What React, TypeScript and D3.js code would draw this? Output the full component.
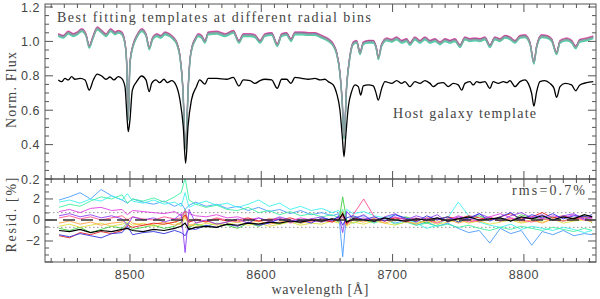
import React from "react";
import * as d3 from "d3";

// ---------- data ----------
const hostWave = [8445.4,8448.0,8450.5,8453.0,8455.6,8458.1,8462.0,8465.8,8469.0,8472.1,8475.1,8478.5,8481.7,8484.8,8487.8,8491.1,8493.7,8496.2,8497.9,8498.7,8500.0,8501.8,8505.1,8508.9,8512.2,8514.7,8516.5,8519.8,8522.6,8525.9,8528.4,8531.8,8535.0,8538.1,8540.6,8542.4,8544.2,8546.8,8550.6,8553.1,8557.1,8559.6,8566.0,8573.6,8578.7,8583.0,8586.3,8591.4,8595.2,8599.0,8602.8,8607.9,8612.2,8615.5,8619.3,8622.6,8625.7,8630.8,8635.8,8640.9,8644.7,8648.5,8651.0,8654.8,8657.4,8659.9,8661.7,8663.0,8664.3,8666.3,8668.8,8671.4,8673.9,8675.7,8677.7,8681.5,8685.3,8687.1,8689.1,8691.7,8694.2,8699.3,8703.1,8706.9,8709.4,8713.2,8717.0,8720.8,8724.6,8728.5,8731.0,8734.8,8738.6,8742.4,8746.2,8750.0,8752.6,8755.1,8758.9,8761.4,8764.0,8766.5,8770.3,8774.1,8776.6,8780.5,8784.3,8786.9,8789.4,8793.2,8797.0,8800.8,8803.3,8805.9,8807.6,8809.7,8812.2,8816.0,8819.8,8822.9,8824.9,8827.5,8831.3,8836.3,8839.4,8842.6,8847.7,8852.8];
const hostFlux = [0.776,0.766,0.785,0.776,0.795,0.780,0.785,0.776,0.717,0.776,0.810,0.799,0.780,0.793,0.776,0.795,0.785,0.737,0.543,0.475,0.543,0.717,0.766,0.799,0.776,0.708,0.756,0.776,0.760,0.780,0.760,0.772,0.747,0.659,0.504,0.291,0.504,0.659,0.737,0.776,0.752,0.785,0.785,0.780,0.791,0.741,0.776,0.772,0.756,0.772,0.780,0.776,0.727,0.780,0.780,0.756,0.791,0.785,0.780,0.785,0.776,0.780,0.766,0.747,0.698,0.601,0.446,0.330,0.446,0.620,0.708,0.747,0.737,0.688,0.741,0.747,0.741,0.708,0.659,0.727,0.766,0.756,0.772,0.756,0.766,0.737,0.766,0.756,0.772,0.756,0.737,0.756,0.760,0.737,0.756,0.747,0.717,0.756,0.766,0.747,0.766,0.760,0.766,0.727,0.766,0.756,0.766,0.760,0.772,0.737,0.766,0.776,0.756,0.698,0.624,0.708,0.766,0.772,0.756,0.727,0.675,0.737,0.756,0.747,0.713,0.747,0.760,0.766];

const fitWave = [8445.4,8449.2,8453.0,8456.8,8459.9,8463.2,8466.5,8469.0,8471.6,8475.1,8478.5,8481.7,8485.3,8488.6,8491.1,8493.7,8496.2,8497.5,8498.7,8500.0,8502.5,8505.1,8508.9,8512.2,8514.7,8517.3,8520.4,8523.4,8526.7,8530.0,8533.0,8535.6,8538.1,8540.2,8542.4,8544.4,8545.7,8547.8,8549.5,8552.0,8554.6,8557.1,8559.6,8566.0,8572.4,8578.7,8583.0,8586.3,8591.4,8595.2,8599.0,8602.8,8607.9,8612.2,8615.5,8619.3,8622.6,8625.7,8630.8,8635.8,8640.9,8646.0,8651.0,8654.8,8657.4,8659.9,8661.7,8663.0,8665.0,8667.5,8670.1,8672.6,8675.2,8677.7,8681.5,8685.3,8687.9,8689.1,8691.7,8695.5,8699.3,8703.1,8706.9,8710.7,8713.2,8717.0,8720.8,8724.6,8728.5,8732.3,8736.1,8739.9,8743.7,8747.5,8751.3,8755.1,8758.9,8762.7,8766.5,8770.3,8774.1,8777.9,8781.8,8785.6,8789.4,8793.2,8797.0,8800.8,8804.6,8807.6,8809.7,8813.5,8817.3,8821.1,8824.9,8827.5,8832.6,8836.4,8839.4,8842.6,8847.7,8852.8];
const fitFlux = [1.037,1.027,1.051,1.037,1.047,1.066,1.037,0.969,1.018,1.076,1.056,1.037,1.066,1.047,1.056,1.047,0.989,0.873,0.549,0.873,0.979,1.027,1.066,1.037,0.960,1.018,1.037,1.027,1.047,1.037,1.018,0.989,0.911,0.737,0.380,0.737,0.892,0.979,1.008,1.037,1.027,0.998,1.047,1.051,1.037,1.056,0.998,1.037,1.037,1.031,0.998,1.037,1.043,0.979,1.037,1.043,1.008,1.047,1.047,1.043,1.043,1.027,1.008,0.979,0.931,0.815,0.640,0.438,0.737,0.911,0.989,0.998,0.931,0.989,0.998,0.998,0.950,0.902,0.979,1.012,1.004,1.018,0.998,1.008,0.985,1.018,0.998,1.018,0.998,1.008,0.989,1.008,0.998,1.008,0.973,1.018,1.008,1.012,1.008,1.018,0.973,1.018,1.008,1.027,1.018,0.998,1.027,1.031,0.989,0.876,0.969,1.031,1.027,1.008,0.931,0.998,1.012,0.998,0.966,1.004,1.012,1.024];

// small offsets of the individual best-fit templates (overlapping band)
const fitColors = ["#e060c0", "#d04060", "#5050e0", "#40e0e0", "#50d0a0"];
const fitOffsets = [0.009, 0.005, 0.002, -0.005, -0.009];

const residWave = [8446,8454,8462,8470,8478,8486,8494,8498,8502,8510,8518,8526,8534,8539,8542,8545,8550,8558,8566,8574,8582,8590,8598,8606,8614,8622,8630,8638,8646,8654,8659,8662,8665,8670,8678,8686,8694,8702,8710,8718,8726,8734,8742,8750,8758,8766,8774,8782,8790,8798,8806,8814,8822,8830,8838,8846,8852];

const residLightBlue = [1.9,2.2,2.6,2.0,2.9,2.3,1.9,1.6,2.0,1.7, 1.5,1.8,1.3,1.6,1.0,1.4,1.7,1.3,1.5,1.1, 1.3,0.9,1.2,0.8,1.0,0.6,0.9,0.5,0.7,0.4, 0.6,-3.5,0.8,0.2,0.4,-0.1,0.2,-0.3,0.0,-0.5, -0.2,-0.6,-0.3,-0.8,-1.2,-1.0,-2.2,-0.8,-1.3,-1.0, -2.4,-1.1,-1.4,-1.0,-1.5,-1.3,-1.4];
const residCyan = [1.7,1.9,1.6,2.0,1.8,2.3,1.9,2.5,1.8,1.6, 1.9,1.5,1.7,1.3,2.6,1.2,1.5,1.8,1.4,1.6, 1.2,1.5,1.9,1.3,1.6,1.0,1.3,0.9,1.1,0.7, 0.9,0.2,1.0,0.6,0.8,0.4,0.2,0.5,0.1,-0.3, -0.8,-0.5,0.2,1.7,0.4,-0.2,-0.5,-0.7,-0.4,-0.9, -0.6,-0.8,-1.0,-0.7,-0.9,-1.2,-1.0];
const residTeal = [1.2,1.5,1.3,1.8,2.2,2.0,2.4,1.6,2.0,1.8, 2.1,1.7,2.2,2.6,4.0,1.9,1.5,1.2,1.4,1.0, 0.9,1.2,0.7,0.9,0.5,0.8,0.4,0.6,0.3,0.5, 0.2,1.0,-0.2,0.3,0.0,-0.3,0.1,-0.4,-0.2,-0.5, -0.3,-0.6,-0.4,-0.7,-0.5,-0.8,-1.0,-0.7,-0.9,-0.6, -0.8,-1.0,-0.7,-0.9,-1.1,-0.8,-1.0];
const residGreen = [-0.8,-1.0,-0.7,-1.2,-0.9,-0.6,-0.8,-0.3,-0.9,-0.7, -0.5,-0.8,-0.6,-0.2,1.0,-0.7,-0.4,-0.6,-0.3,-0.5, -0.8,-0.3,-0.6,-0.2,-0.4,-0.1,-0.3,0.0,-0.2,0.1, -0.2,2.2,0.0,-0.3,0.1,-0.2,0.2,-0.1,0.3,0.0, -0.3,0.1,0.3,-0.2,0.2,0.4,0.0,0.2,-0.1,0.5, 0.2,0.0,0.3,-0.1,0.2,0.4,-0.3];
const residYellow = [-0.6,-0.4,-0.7,-0.5,-0.3,-0.6,-0.4,-0.2,-0.5,-0.3, -0.6,-0.4,-0.2,-0.5,0.2,-0.4,-0.6,-0.3,-0.5,-0.4, -0.2,-0.5,-0.3,-0.6,-0.4,-0.2,-0.5,-0.3,-0.4,-0.1, -0.3,0.3,-0.6,-0.2,-0.4,-0.1,-0.3,-0.5,-0.2,-0.3, -0.1,-0.4,-0.2,0.0,-0.3,-0.1,-0.4,-0.2,0.0,-0.3, -0.1,-0.2,0.1,-0.3,-0.1,0.0,-0.2];
const residOrange = [-0.3,-0.1,-0.4,-0.2,-0.5,-0.3,-0.2,0.1,-0.3,-0.5, -0.4,-0.2,-0.5,-0.3,0.4,-0.6,-0.3,-0.1,-0.4,-0.2, 0.0,-0.3,-0.1,-0.4,-0.2,0.0,-0.3,-0.1,0.1,-0.2, 0.0,0.8,-0.5,0.0,-0.2,0.1,-0.3,0.0,-0.1,-0.4, 0.0,-0.2,0.1,-0.3,0.0,-0.2,0.1,-0.1,0.2,-0.2, 0.0,-0.3,0.1,-0.1,0.0,0.2,-0.1];
const residRed = [-1.5,-1.7,-1.2,-1.4,-1.1,-1.3,-1.0,-0.5,-0.7,-0.5, -0.3,-0.4,-0.2,0.0,0.5,-0.2,0.0,-0.2,0.1,-0.1, 0.0,0.2,-0.1,0.1,0.0,0.2,-0.1,0.1,0.0,-0.2, 0.1,0.5,-0.4,0.2,0.0,0.1,-0.1,0.2,0.1,-0.1, 0.2,0.0,0.3,0.1,0.4,0.2,0.0,0.3,0.6,0.1, 0.3,0.7,0.2,0.4,0.1,0.3,0.2];
const residPink = [0.2,0.4,0.1,0.3,0.0,0.2,0.4,0.0,0.3,0.1, 0.0,0.3,0.1,0.2,0.8,-0.2,0.1,-0.1,0.2,0.0, -0.2,0.1,-0.1,0.0,0.2,-0.3,0.0,-0.2,0.1,-0.1, 0.2,0.4,-0.3,0.5,2.0,0.3,-0.1,0.2,-0.2,0.1, 0.0,-0.3,0.1,0.2,-0.2,0.0,0.3,-0.1,0.1,0.0, -0.2,0.1,0.0,-0.1,0.2,0.0,-0.1];
const residMagenta = [0.8,1.0,0.7,1.1,1.2,0.9,1.0,0.5,0.9,0.8, 0.7,0.6,0.8,0.4,0.9,0.6,0.4,0.3,0.5,0.2, 0.3,0.0,0.2,-0.2,0.1,-0.1,0.2,0.0,-0.2,0.1, -0.1,0.3,-0.2,0.0,0.2,-0.1,0.1,0.3,0.0,0.2, -0.1,0.2,0.0,0.4,0.1,-0.1,0.3,0.6,0.2,0.0, 0.3,0.1,0.4,0.2,0.5,0.0,0.2];
const residPurple = [0.4,0.6,0.3,0.5,0.2,0.4,0.1,-0.5,0.3,0.0, 0.2,-0.2,0.1,0.6,-3.1,1.0,-0.3,0.0,-0.4,-0.2, 0.1,-0.3,0.2,-0.1,0.3,0.0,-0.2,0.1,0.3,-0.1, 0.4,-1.2,0.8,0.1,0.5,-0.2,0.3,0.6,0.0,0.4, 0.1,0.5,-0.2,0.3,0.0,0.6,0.2,-0.1,0.4,0.7, 0.2,0.5,0.0,0.4,0.6,0.1,0.3];
const residBlue = [-1.4,-1.6,-1.3,-1.5,-1.7,-1.3,-1.2,-0.6,-1.4,-1.2, -1.1,-1.3,-1.0,-1.2,-1.5,-0.8,-0.9,-0.5,-0.7,-0.4, -0.6,-0.2,-0.5,-0.3,0.1,-0.2,0.0,-0.3,0.2,0.0, 0.3,-0.5,0.2,0.4,0.0,0.3,-0.1,0.5,0.2,-0.2, 0.4,0.0,0.3,-0.2,0.2,0.6,-0.1,0.3,0.7,0.0, 0.5,0.2,0.6,0.1,0.4,0.3,0.5];
const residBlack = [-1.0,-1.1,-0.9,-1.2,-1.0,-1.1,-0.9,-0.8,-1.0,-1.1, -0.9,-1.0,-0.8,-0.6,-0.3,-0.9,-0.7,-0.6,-0.7,-0.4, -0.5,-0.3,-0.4,-0.2,-0.3,-0.1,-0.2,0.0,-0.1,0.1, 0.0,0.6,-0.2,0.1,0.0,-0.1,0.2,0.0,-0.1,0.1, 0.0,0.2,-0.1,0.1,0.3,0.0,0.1,0.2,-0.1,0.3, 0.1,0.4,0.0,0.3,0.1,0.5,0.3];

const residSeries = [
  { name: "lightblue", color: "#4a9cff", values: residLightBlue },
  { name: "cyan", color: "#40f0f0", values: residCyan },
  { name: "teal", color: "#40f0a0", values: residTeal },
  { name: "green", color: "#40d040", values: residGreen },
  { name: "yellow", color: "#e0e040", values: residYellow },
  { name: "orange", color: "#ffa040", values: residOrange },
  { name: "pink", color: "#ff5090", values: residPink },
  { name: "red", color: "#e82020", values: residRed },
  { name: "magenta", color: "#e040e0", values: residMagenta },
  { name: "purple", color: "#9040f0", values: residPurple },
  { name: "blue", color: "#3030e0", values: residBlue },
  { name: "black", color: "#000000", values: residBlack },
];

const xTicks = [8500, 8600, 8700, 8800];
const fluxTicks = [0.2, 0.4, 0.6, 0.8, 1.0, 1.2];
const residTicks = [-2, 0, 2];
const rmsLevel = 0.7;

// ---------- layout ----------
const W = 600, H = 299;
const L = 45, R = 596, T = 4, M = 179, B = 262;
const AX = "#555";
const TXT = "#444";

export default function App() {
  const x = d3.scaleLinear().domain([8435.3, 8854.9]).range([L, R]);
  const yTop = d3.scaleLinear().domain([0.2, 1.2175]).range([M, T]);
  const yRes = d3.scaleLinear().domain([-4, 3.9]).range([B, M]);

  const specLine = (wave: number[], flux: number[], off = 0) =>
    d3.line<number>().x((_, i) => x(wave[i])).y((v) => yTop(v + off)).curve(d3.curveMonotoneX)(flux) || "";
  const resLine = (vals: number[]) =>
    d3.line<number>().x((_, i) => x(residWave[i])).y((v) => yRes(v)).curve(d3.curveLinear)(vals) || "";

  const xMinor = d3.range(8440, 8855, 10);
  const fluxMinor = d3.range(0.2, 1.2001, 0.05);
  const resMinor = d3.range(-4, 3.9, 2 / 3);

  const ticksX = (yEdge: number, dir: number, key: string) =>
    xMinor.map((v) => {
      const major = v % 100 === 0;
      const len = major ? 8 : 4;
      return <line key={key + v} x1={x(v)} x2={x(v)} y1={yEdge} y2={yEdge + dir * len} stroke={AX} strokeWidth={1} />;
    });

  return (
    <svg width={W} height={H} style={{ position: "absolute", left: 0, top: 0, background: "#fff" }}>
      <defs>
        <clipPath id="clipTop"><rect x={L} y={T} width={R - L} height={M - T} /></clipPath>
        <clipPath id="clipRes"><rect x={L} y={M} width={R - L} height={B - M} /></clipPath>
      </defs>

      {/* top panel spectra */}
      <g clipPath="url(#clipTop)" fill="none">
        {fitOffsets.map((o, i) => (
          <path key={"fit" + i} d={specLine(fitWave, fitFlux, o)} stroke={fitColors[i]} strokeWidth={1.1} />
        ))}
        <path d={specLine(fitWave, fitFlux)} stroke="#8e9c9c" strokeWidth={1.6} />
        <path d={specLine(hostWave, hostFlux)} stroke="#000" strokeWidth={1.3} />
      </g>

      {/* residual panel */}
      <g clipPath="url(#clipRes)" fill="none">
        {[rmsLevel, -rmsLevel].map((v) => (
          <line key={"rms" + v} x1={L} x2={R} y1={yRes(v)} y2={yRes(v)} stroke="#777" strokeWidth={0.8} strokeDasharray="1.5,2.5" />
        ))}
        {residSeries.map((s) => (
          <path key={s.name} d={resLine(s.values)} stroke={s.color} strokeWidth={s.name === "black" ? 1.2 : 0.9} />
        ))}
        <line x1={L} x2={R} y1={yRes(0)} y2={yRes(0)} stroke="#333" strokeWidth={1.6} strokeDasharray="12,6" />
      </g>

      {/* frames */}
      <rect x={L} y={T} width={R - L} height={M - T} fill="none" stroke={AX} strokeWidth={1} />
      <rect x={L} y={M} width={R - L} height={B - M} fill="none" stroke={AX} strokeWidth={1} />

      {/* x ticks */}
      {ticksX(T, 1, "tt")}
      {ticksX(M, -1, "tb")}
      {ticksX(M, 1, "rt")}
      {ticksX(B, -1, "rb")}

      {/* y ticks top */}
      {fluxMinor.map((v, i) => {
        const major = i % 4 === 0;
        const len = major ? 8 : 4;
        const yy = yTop(v);
        return (
          <g key={"fy" + i}>
            <line x1={L} x2={L + len} y1={yy} y2={yy} stroke={AX} />
            <line x1={R} x2={R - len} y1={yy} y2={yy} stroke={AX} />
          </g>
        );
      })}
      {resMinor.map((v, i) => {
        const major = i % 3 === 0;
        const len = major ? 8 : 4;
        const yy = yRes(v);
        return (
          <g key={"ry" + i}>
            <line x1={L} x2={L + len} y1={yy} y2={yy} stroke={AX} />
            <line x1={R} x2={R - len} y1={yy} y2={yy} stroke={AX} />
          </g>
        );
      })}

      {/* tick labels */}
      <g fontFamily="'Liberation Sans', Arial, sans-serif" fontSize={12.5} fill={TXT}>
        {xTicks.map((v) => (
          <text key={"xl" + v} x={x(v)} y={278.5} textAnchor="middle" letterSpacing={0.6}>{v}</text>
        ))}
        {fluxTicks.map((v) => (
          <text key={"fl" + v} x={40} y={yTop(v) + 4.5} textAnchor="end" letterSpacing={0.5}>{v.toFixed(1)}</text>
        ))}
        {residTicks.map((v) => (
          <text key={"rl" + v} x={40} y={yRes(v) + 4.5} textAnchor="end">{v < 0 ? "\u2212" + Math.abs(v) : String(v)}</text>
        ))}
      </g>

      {/* titles and annotations */}
      <g fontFamily="'Liberation Serif', 'Times New Roman', serif" fill={TXT} fontSize={14}>
        <text x={57} y={22} textLength={314} lengthAdjust="spacing">Best fitting templates at different radial bins</text>
        <text x={393} y={118} textLength={143} lengthAdjust="spacing">Host galaxy template</text>
        <text x={512} y={195} textLength={73} lengthAdjust="spacing">rms=0.7%</text>
        <text x={320} y={294} textAnchor="middle" textLength={97} lengthAdjust="spacing">wavelength [Å]</text>
        <text transform={`translate(16,90) rotate(-90)`} textAnchor="middle" textLength={76} lengthAdjust="spacing">Norm. Flux</text>
        <text transform={`translate(16,215) rotate(-90)`} textAnchor="middle" textLength={75} lengthAdjust="spacing">Resid. [%]</text>
      </g>
    </svg>
  );
}
